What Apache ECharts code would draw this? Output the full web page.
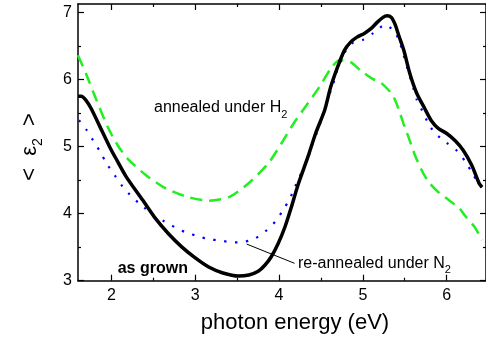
<!DOCTYPE html>
<html><head><meta charset="utf-8">
<script src="https://cdn.jsdelivr.net/npm/echarts@6/dist/echarts.min.js"></script>
<style>html,body{margin:0;padding:0;background:#fff}#c{width:486px;height:340px}</style>
</head><body><div id="c"></div>
<script>
var X_MIN = 1.6, X_MAX = 6.47, Y_MIN = 3, Y_MAX = 7.124;
var xMajorTicks = [2, 3, 4, 5, 6];
var xMinorTicks = [2.5, 3.5, 4.5, 5.5];
var yMajorTicks = [3, 4, 5, 6, 7];
var yMinorTicks = [3.5, 4.5, 5.5, 6.5];

var asGrown = [[1.600,5.749],[1.640,5.749],[1.700,5.680],[1.757,5.566],[1.860,5.300],[1.978,4.994],[2.053,4.821],[2.176,4.548],[2.372,4.201],[2.510,3.952],[2.680,3.700],[2.841,3.501],[3.000,3.340],[3.160,3.204],[3.330,3.115],[3.515,3.070],[3.640,3.085],[3.751,3.140],[3.830,3.230],[3.905,3.353],[3.988,3.550],[4.070,3.800],[4.150,4.110],[4.224,4.420],[4.343,4.841],[4.437,5.198],[4.544,5.540],[4.615,5.882],[4.697,6.180],[4.780,6.433],[4.851,6.552],[4.930,6.630],[5.017,6.686],[5.100,6.760],[5.170,6.850],[5.240,6.925],[5.290,6.950],[5.340,6.925],[5.385,6.820],[5.430,6.650],[5.489,6.433],[5.560,6.091],[5.643,5.793],[5.737,5.570],[5.820,5.380],[5.900,5.270],[5.997,5.198],[6.100,5.090],[6.198,4.945],[6.300,4.720],[6.387,4.454],[6.423,4.395]];

var reannealedN2 = [[1.612,5.391],[1.706,5.242],[1.786,5.079],[1.868,4.915],[1.939,4.751],[2.037,4.573],[2.128,4.409],[2.247,4.245],[2.380,4.101],[2.510,3.963],[2.640,3.878],[2.767,3.789],[2.900,3.714],[3.030,3.665],[3.169,3.616],[3.299,3.601],[3.432,3.571],[3.566,3.576],[3.701,3.621],[3.831,3.729],[3.961,3.888],[4.047,4.052],[4.126,4.216],[4.185,4.384],[4.244,4.548],[4.303,4.711],[4.362,4.885],[4.401,5.045],[4.452,5.208],[4.500,5.381],[4.547,5.551],[4.579,5.719],[4.638,5.887],[4.673,6.061],[4.776,6.384],[4.862,6.533],[5.004,6.592],[5.131,6.696],[5.268,6.815],[5.386,6.696],[5.445,6.533],[5.485,6.369],[5.524,6.199],[5.563,6.036],[5.604,5.863],[5.643,5.699],[5.710,5.530],[5.773,5.366],[5.859,5.202],[5.997,5.060],[6.124,4.935],[6.225,4.771],[6.305,4.607],[6.384,4.439],[6.423,4.380]];

var annealedH2 = [[1.600,6.359],[1.703,6.061],[1.821,5.689],[1.955,5.292],[2.073,5.019],[2.191,4.821],[2.412,4.573],[2.649,4.375],[2.904,4.250],[3.160,4.193],[3.409,4.250],[3.633,4.449],[3.870,4.747],[4.027,5.045],[4.185,5.366],[4.342,5.640],[4.481,5.887],[4.618,6.161],[4.721,6.284],[4.854,6.259],[4.972,6.135],[5.111,6.012],[5.209,5.957],[5.327,5.813],[5.386,5.689],[5.445,5.491],[5.485,5.342],[5.544,5.143],[5.622,4.871],[5.722,4.598],[5.800,4.449],[5.918,4.301],[6.017,4.211],[6.154,4.077],[6.213,3.978],[6.332,3.804],[6.423,3.606]];

var leaderLine = [[3.613,3.546],[4.185,3.259]];

var FONT = 'Liberation Sans, Arial, sans-serif';
var chart = echarts.init(document.getElementById('c'), null, {renderer:'canvas'});

function xAx(pos, ticks, len, labels, line){
  return {type:'value', position:pos, min:X_MIN, max:X_MAX,
    axisLine:{show:line, onZero:false, lineStyle:{color:'#000', width:1.5}},
    axisTick:{show:true, inside:true, length:len, customValues:ticks, lineStyle:{color:'#000', width:1.2}},
    axisLabel:{show:labels, customValues:ticks, color:'#000', fontSize:16, fontFamily:FONT, margin:7},
    splitLine:{show:false}};
}
function yAx(pos, ticks, len, labels, line){
  return {type:'value', position:pos, min:Y_MIN, max:Y_MAX,
    axisLine:{show:line, onZero:false, lineStyle:{color:'#000', width:1.5}},
    axisTick:{show:true, inside:true, length:len, customValues:ticks, lineStyle:{color:'#000', width:1.2}},
    axisLabel:{show:labels, customValues:ticks, color:'#000', fontSize:16, fontFamily:FONT, margin:6},
    splitLine:{show:false}};
}

chart.setOption({
  animation:false,
  grid:{left:78, right:-4, top:4, bottom:59.3, containLabel:false},
  xAxis:[xAx('bottom', xMajorTicks, 6, true, true), xAx('bottom', xMinorTicks, 3, false, false),
         xAx('top', xMajorTicks, 6, false, true), xAx('top', xMinorTicks, 3, false, false)],
  yAxis:[yAx('left', yMajorTicks, 6, true, true), yAx('left', yMinorTicks, 3, false, false),
         yAx('right', yMajorTicks, 6, false, true), yAx('right', yMinorTicks, 3, false, false)],
  series:[
    {type:'line', data:annealedH2, showSymbol:false, smooth:0.25, z:2,
     lineStyle:{color:'#22ee22', width:2.5, type:[12,7]}},
    {type:'line', data:reannealedN2, showSymbol:false, smooth:0.25, z:3,
     lineStyle:{color:'#0000ff', width:2.2, type:[2.2,8.8]}},
    {type:'line', data:asGrown, showSymbol:false, smooth:0.25, z:4,
     lineStyle:{color:'#000', width:3.5}},
    {type:'line', data:[], z:5,
     markLine:{silent:true, symbol:['none','none'], label:{show:false},
       lineStyle:{color:'#000', width:1, type:'solid'},
       data:[[{coord:leaderLine[0]},{coord:leaderLine[1]}]]}}
  ],
  graphic:[
    {type:'text', x:30, y:147, rotation:Math.PI/2,
     style:{text:'{a|<  ε}{s|2}{a|  >}', align:'center', verticalAlign:'middle', fill:'#000',
       rich:{a:{fontSize:22, fontFamily:FONT, lineHeight:30}, s:{fontSize:14, fontFamily:FONT, lineHeight:14, verticalAlign:'bottom'}}}},
    {type:'text', x:295, y:323, style:{text:'photon energy (eV)', align:'center', verticalAlign:'middle', fill:'#000', font:'22px '+FONT}},
    {type:'text', x:154, y:108,
     style:{text:'{a|annealed under H}{s|2}', align:'left', verticalAlign:'middle', fill:'#000',
       rich:{a:{fontSize:16, fontFamily:FONT, lineHeight:24}, s:{fontSize:11, fontFamily:FONT, lineHeight:11, verticalAlign:'bottom'}}}},
    {type:'text', x:117.7, y:268.4, style:{text:'as grown', align:'left', verticalAlign:'middle', fill:'#000', font:'bold 16px '+FONT}},
    {type:'text', x:298, y:263.5,
     style:{text:'{a|re-annealed under N}{s|2}', align:'left', verticalAlign:'middle', fill:'#000',
       rich:{a:{fontSize:16, fontFamily:FONT, lineHeight:24}, s:{fontSize:11, fontFamily:FONT, lineHeight:11, verticalAlign:'bottom'}}}}
  ]
});
</script></body></html>
